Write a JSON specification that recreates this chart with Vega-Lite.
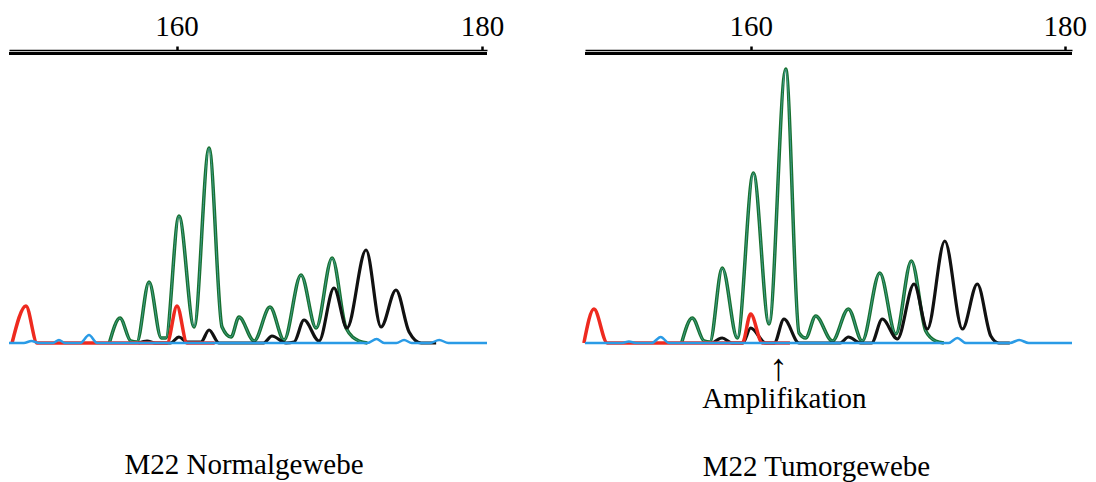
{
  "$schema": "https://vega.github.io/schema/vega-lite/v6.json",
  "padding": {"left": 4, "top": 12, "right": 0, "bottom": 0},
  "background": "white",
  "spacing": 98,
  "bounds": "flush",
  "config": {"view": {"stroke": null}, "font": "Liberation Serif"},
  "datasets": {
    "L": [
      {"t": "g", "x": 155.6, "y": 0}, {"t": "g", "x": 156.3, "y": 25}, {"t": "g", "x": 157.0, "y": 2}, {"t": "g", "x": 157.4, "y": 1},
      {"t": "g", "x": 158.2, "y": 61}, {"t": "g", "x": 159.0, "y": 5}, {"t": "g", "x": 159.3, "y": 5}, {"t": "g", "x": 160.16, "y": 127},
      {"t": "g", "x": 161.15, "y": 16}, {"t": "g", "x": 162.13, "y": 195}, {"t": "g", "x": 162.98, "y": 16}, {"t": "g", "x": 163.57, "y": 6},
      {"t": "g", "x": 164.09, "y": 26}, {"t": "g", "x": 165.08, "y": 2}, {"t": "g", "x": 166.12, "y": 36}, {"t": "g", "x": 167.04, "y": 3},
      {"t": "g", "x": 168.15, "y": 68}, {"t": "g", "x": 169.14, "y": 15}, {"t": "g", "x": 170.19, "y": 85}, {"t": "g", "x": 171.1, "y": 15},
      {"t": "g", "x": 171.95, "y": 2}, {"t": "g", "x": 172.5, "y": 0},
      {"t": "k", "x": 157.5, "y": 0}, {"t": "k", "x": 158.07, "y": 2}, {"t": "k", "x": 158.6, "y": 0}, {"t": "k", "x": 159.6, "y": 0},
      {"t": "k", "x": 160.16, "y": 6}, {"t": "k", "x": 160.7, "y": 1}, {"t": "k", "x": 161.6, "y": 1}, {"t": "k", "x": 162.13, "y": 13},
      {"t": "k", "x": 162.78, "y": 0}, {"t": "k", "x": 165.7, "y": 0}, {"t": "k", "x": 166.25, "y": 7}, {"t": "k", "x": 167.17, "y": 0},
      {"t": "k", "x": 167.7, "y": 1}, {"t": "k", "x": 168.35, "y": 23}, {"t": "k", "x": 169.33, "y": 2}, {"t": "k", "x": 170.31, "y": 55},
      {"t": "k", "x": 171.16, "y": 15}, {"t": "k", "x": 172.41, "y": 93}, {"t": "k", "x": 173.39, "y": 16}, {"t": "k", "x": 174.37, "y": 53},
      {"t": "k", "x": 175.23, "y": 11}, {"t": "k", "x": 176.02, "y": 0}, {"t": "k", "x": 177.0, "y": 0},
      {"t": "r", "x": 149.23, "y": 0}, {"t": "r", "x": 150.14, "y": 37}, {"t": "r", "x": 150.87, "y": 0}, {"t": "r", "x": 151.5, "y": 0},
      {"t": "r", "x": 158.8, "y": 0}, {"t": "r", "x": 159.38, "y": 0}, {"t": "r", "x": 160.03, "y": 37}, {"t": "r", "x": 160.69, "y": 0}, {"t": "r", "x": 162.5, "y": 0},
      {"t": "b", "x": 149.03, "y": 0}, {"t": "b", "x": 150.0, "y": 0}, {"t": "b", "x": 150.5, "y": 2}, {"t": "b", "x": 151.0, "y": 0},
      {"t": "b", "x": 151.9, "y": 0}, {"t": "b", "x": 152.3, "y": 3}, {"t": "b", "x": 152.7, "y": 0}, {"t": "b", "x": 153.7, "y": 0},
      {"t": "b", "x": 154.27, "y": 8}, {"t": "b", "x": 154.8, "y": 0}, {"t": "b", "x": 172.5, "y": 0}, {"t": "b", "x": 173.1, "y": 4},
      {"t": "b", "x": 173.6, "y": 0}, {"t": "b", "x": 174.4, "y": 0}, {"t": "b", "x": 174.9, "y": 3}, {"t": "b", "x": 175.4, "y": 0},
      {"t": "b", "x": 176.6, "y": 0}, {"t": "b", "x": 177.2, "y": 3}, {"t": "b", "x": 177.8, "y": 0}, {"t": "b", "x": 180.33, "y": 0}
    ],
    "R": [
      {"t": "g", "x": 155.6, "y": 0}, {"t": "g", "x": 156.28, "y": 25}, {"t": "g", "x": 157.03, "y": 2}, {"t": "g", "x": 157.4, "y": 1},
      {"t": "g", "x": 158.19, "y": 75}, {"t": "g", "x": 159.15, "y": 5}, {"t": "g", "x": 160.17, "y": 170}, {"t": "g", "x": 161.17, "y": 19},
      {"t": "g", "x": 162.23, "y": 274}, {"t": "g", "x": 163.08, "y": 10}, {"t": "g", "x": 163.5, "y": 5}, {"t": "g", "x": 164.14, "y": 27},
      {"t": "g", "x": 165.2, "y": 2}, {"t": "g", "x": 166.22, "y": 34}, {"t": "g", "x": 167.1, "y": 2}, {"t": "g", "x": 168.22, "y": 70},
      {"t": "g", "x": 169.24, "y": 9}, {"t": "g", "x": 170.23, "y": 82}, {"t": "g", "x": 171.15, "y": 12}, {"t": "g", "x": 171.78, "y": 2},
      {"t": "g", "x": 172.3, "y": 0},
      {"t": "k", "x": 157.6, "y": 0}, {"t": "k", "x": 158.19, "y": 5}, {"t": "k", "x": 158.8, "y": 0}, {"t": "k", "x": 159.5, "y": 0},
      {"t": "k", "x": 160.0, "y": 15}, {"t": "k", "x": 160.96, "y": 0}, {"t": "k", "x": 161.5, "y": 0}, {"t": "k", "x": 162.12, "y": 24},
      {"t": "k", "x": 163.08, "y": 0}, {"t": "k", "x": 165.7, "y": 0}, {"t": "k", "x": 166.22, "y": 6}, {"t": "k", "x": 167.0, "y": 0},
      {"t": "k", "x": 167.7, "y": 0}, {"t": "k", "x": 168.38, "y": 24}, {"t": "k", "x": 169.34, "y": 4}, {"t": "k", "x": 170.4, "y": 59},
      {"t": "k", "x": 171.25, "y": 14}, {"t": "k", "x": 172.36, "y": 102}, {"t": "k", "x": 173.48, "y": 14}, {"t": "k", "x": 174.43, "y": 59},
      {"t": "k", "x": 175.29, "y": 7}, {"t": "k", "x": 175.8, "y": 0}, {"t": "k", "x": 176.5, "y": 0},
      {"t": "r", "x": 149.38, "y": 0}, {"t": "r", "x": 150.02, "y": 34}, {"t": "r", "x": 150.87, "y": 0}, {"t": "r", "x": 151.5, "y": 0},
      {"t": "r", "x": 158.9, "y": 0}, {"t": "r", "x": 159.47, "y": 0}, {"t": "r", "x": 160.0, "y": 29}, {"t": "r", "x": 160.74, "y": 0}, {"t": "r", "x": 162.5, "y": 0},
      {"t": "b", "x": 149.45, "y": 0}, {"t": "b", "x": 151.8, "y": 0}, {"t": "b", "x": 152.25, "y": 1.5}, {"t": "b", "x": 152.7, "y": 0},
      {"t": "b", "x": 153.7, "y": 0}, {"t": "b", "x": 154.27, "y": 6}, {"t": "b", "x": 154.8, "y": 0}, {"t": "b", "x": 172.6, "y": 0},
      {"t": "b", "x": 173.16, "y": 5}, {"t": "b", "x": 173.7, "y": 0}, {"t": "b", "x": 176.5, "y": 0}, {"t": "b", "x": 177.1, "y": 3},
      {"t": "b", "x": 177.7, "y": 0}, {"t": "b", "x": 180.46, "y": 0}
    ],
    "A": [
      {"x": 161.75, "y": -37, "label": "↑", "k": "arrow"},
      {"x": 162.15, "y": -65, "label": "Amplifikation", "k": "word"}
    ]
  },
  "hconcat": [
    {
      "width": 478,
      "height": 293,
      "title": {"text": "M22 Normalgewebe", "orient": "bottom", "frame": "group", "offset": 124, "baseline": "alphabetic", "fontSize": 29, "fontWeight": "normal", "font": "Liberation Serif", "color": "black", "dx": -4},
      "data": {"name": "L"},
      "encoding": {
        "x": {"field": "x", "type": "quantitative", "scale": {"domain": [149.03, 180.33], "nice": false, "zero": false},
          "axis": {"orient": "top", "values": [160, 180], "title": null, "grid": false, "domain": true, "domainColor": "black", "domainWidth": 1.5,
            "ticks": true, "tickSize": 4, "tickWidth": 2.5, "tickColor": "black", "labelFont": "Liberation Serif", "labelFontSize": 29,
            "labelColor": "black", "labelBaseline": "alphabetic", "labelPadding": 11, "labelFlush": false}},
        "y": {"field": "y", "type": "quantitative", "scale": {"domain": [0, 293], "nice": false}, "axis": null}
      },
      "layer": [
        {"transform": [{"filter": "datum.t === 'g'"}], "mark": {"type": "line", "interpolate": "monotone", "stroke": "#17702f", "strokeWidth": 3.5}},
        {"transform": [{"filter": "datum.t === 'g'"}], "mark": {"type": "line", "interpolate": "monotone", "stroke": "#3f9c8c", "strokeWidth": 1}},
        {"transform": [{"filter": "datum.t === 'k'"}], "mark": {"type": "line", "interpolate": "monotone", "stroke": "#111111", "strokeWidth": 3.2}},
        {"transform": [{"filter": "datum.t === 'r'"}], "mark": {"type": "line", "interpolate": "monotone", "stroke": "#ee2a1f", "strokeWidth": 3.5}},
        {"transform": [{"filter": "datum.t === 'b'"}], "mark": {"type": "line", "interpolate": "monotone", "stroke": "#2a9be6", "strokeWidth": 2.5}},
        {"mark": {"type": "rule", "stroke": "black", "strokeWidth": 1.5}, "encoding": {"y": {"datum": 289.5}, "x": null}}
      ]
    },
    {
      "width": 487,
      "height": 293,
      "title": {"text": "M22 Tumorgewebe", "orient": "bottom", "frame": "group", "offset": 62, "baseline": "alphabetic", "fontSize": 29, "fontWeight": "normal", "font": "Liberation Serif", "color": "black", "dx": -12},
      "data": {"name": "R"},
      "encoding": {
        "x": {"field": "x", "type": "quantitative", "scale": {"domain": [149.45, 180.46], "nice": false, "zero": false},
          "axis": {"orient": "top", "values": [160, 180], "title": null, "grid": false, "domain": true, "domainColor": "black", "domainWidth": 1.5,
            "ticks": true, "tickSize": 4, "tickWidth": 2.5, "tickColor": "black", "labelFont": "Liberation Serif", "labelFontSize": 29,
            "labelColor": "black", "labelBaseline": "alphabetic", "labelPadding": 11, "labelFlush": false}},
        "y": {"field": "y", "type": "quantitative", "scale": {"domain": [0, 293], "nice": false}, "axis": null}
      },
      "layer": [
        {"transform": [{"filter": "datum.t === 'g'"}], "mark": {"type": "line", "interpolate": "monotone", "stroke": "#17702f", "strokeWidth": 3.5}},
        {"transform": [{"filter": "datum.t === 'g'"}], "mark": {"type": "line", "interpolate": "monotone", "stroke": "#3f9c8c", "strokeWidth": 1}},
        {"transform": [{"filter": "datum.t === 'k'"}], "mark": {"type": "line", "interpolate": "monotone", "stroke": "#111111", "strokeWidth": 3.2}},
        {"transform": [{"filter": "datum.t === 'r'"}], "mark": {"type": "line", "interpolate": "monotone", "stroke": "#ee2a1f", "strokeWidth": 3.5}},
        {"transform": [{"filter": "datum.t === 'b'"}], "mark": {"type": "line", "interpolate": "monotone", "stroke": "#2a9be6", "strokeWidth": 2.5}},
        {"mark": {"type": "rule", "stroke": "black", "strokeWidth": 1.5}, "encoding": {"y": {"datum": 289.5}, "x": null}},
        {"data": {"name": "A"}, "transform": [{"filter": "datum.k === 'arrow'"}],
          "mark": {"type": "text", "font": "Liberation Serif", "fontSize": 38, "fontWeight": "normal", "color": "black", "align": "center", "baseline": "alphabetic"},
          "encoding": {"text": {"field": "label", "type": "nominal"}}},
        {"data": {"name": "A"}, "transform": [{"filter": "datum.k === 'word'"}],
          "mark": {"type": "text", "font": "Liberation Serif", "fontSize": 29, "color": "black", "align": "center", "baseline": "alphabetic"},
          "encoding": {"text": {"field": "label", "type": "nominal"}}}
      ]
    }
  ]
}
